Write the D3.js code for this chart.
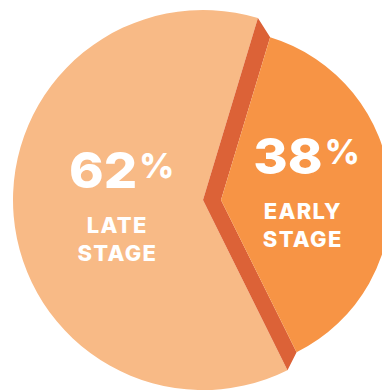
<!DOCTYPE html>
<html>
<head>
<meta charset="utf-8">
<script src="https://cdn.jsdelivr.net/npm/d3@7"></script>
<style>
  html, body { margin: 0; padding: 0; background: #fff; }
  svg { display: block; }
  text { font-family: Inter, "Noto Sans", sans-serif; fill: #fff; }
</style>
</head>
<body>
<div id="chart"></div>
<script>
/* stage share, early first so it sits on the right */
var stages = ["EARLY STAGE", "LATE STAGE"];
var shares = [38, 62];
var colors = ["#f79445", "#f8ba86"];
var sideColor = "#dc6237";

var width = 382, height = 392;

var svg = d3.select("#chart").append("svg")
    .attr("width", width)
    .attr("height", height);

// big disc (late) and the smaller pulled-out wedge (early)
var big = { x: 203, y: 200, r: 190 },
    small = { x: 221, y: 200, r: 170 };

var data = stages.map(function(s, i) { return { stage: s, value: shares[i] }; });

var mid = 85.2 * Math.PI / 180,
    span = 2 * Math.PI * shares[0] / d3.sum(shares),
    a0 = mid - span / 2;

var pie = d3.pie().sort(null).value(function(d) { return d.value; })
    .startAngle(a0).endAngle(a0 + 2 * Math.PI);
var arcs = pie(data);
var early = arcs[0], late = arcs[1];

function corner(c, a, r) {
  return [c.x + r * Math.sin(a), c.y - r * Math.cos(a)];
}

// late slice
svg.append("path")
    .attr("transform", "translate(" + big.x + "," + big.y + ")")
    .attr("d", d3.arc().innerRadius(0).outerRadius(big.r)(late))
    .attr("fill", colors[1]);

// the dark "thickness" between the two wedges
var side = [
  [big.x, big.y],
  corner(big, early.startAngle, big.r),
  corner(small, early.startAngle, small.r),
  [small.x, small.y],
  corner(small, early.endAngle, small.r),
  corner(big, early.endAngle, big.r)
];
svg.append("path")
    .attr("d", d3.line()(side) + "Z")
    .attr("fill", sideColor);

// early slice
svg.append("path")
    .attr("transform", "translate(" + small.x + "," + small.y + ")")
    .attr("d", d3.arc().innerRadius(0).outerRadius(small.r)(early))
    .attr("fill", colors[0]);

/* labels */
function label(d, c, lr) {
  var p = d3.arc().innerRadius(0).outerRadius(lr).centroid(d);
  var cx = c.x + p[0], cy = c.y + p[1];
  var g = svg.append("g").attr("transform", "translate(" + cx + "," + cy + ")");
  g.append("text")
      .attr("x", 19).attr("y", -19)
      .attr("text-anchor", "end")
      .attr("transform", "scale(1.05,1)")
      .style("font-size", "50px").style("font-weight", 800)
      .text(d.data.value);
  g.append("text")
      .attr("x", 22).attr("y", -29)
      .attr("text-anchor", "start")
      .style("font-size", "34px").style("font-weight", 800)
      .text("%");
  var words = d.data.stage.split(" ");
  words.forEach(function(w, i) {
    g.append("text")
        .attr("x", 0).attr("y", 26 + i * 28)
        .attr("text-anchor", "middle")
        .style("font-size", "22px").style("font-weight", 800)
        .style("letter-spacing", "1.3px")
        .text(w);
  });
}
label(late, big, 172);
label(early, small, 164);
</script>
</body>
</html>
